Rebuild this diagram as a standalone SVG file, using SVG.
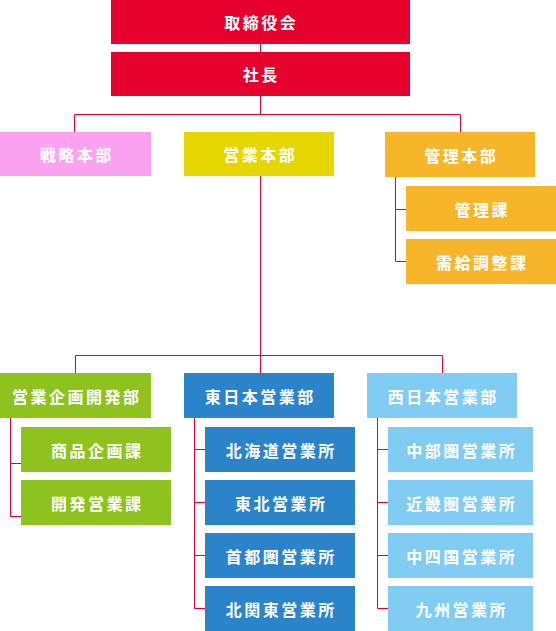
<svg xmlns="http://www.w3.org/2000/svg" width="556" height="631" viewBox="0 0 556 631">
<style>
text{font-family:"Noto Sans CJK JP","Noto Sans CJK SC",sans-serif;font-weight:bold;font-size:16px;fill:#fff;text-anchor:middle;dominant-baseline:central;letter-spacing:2.5px}
.red{fill:#E5002D}.pink{fill:#FBA3F1}.yel{fill:#E5D600}.ora{fill:#F7B529}.grn{fill:#8EC31F}.blu{fill:#2B83CA}.lbl{fill:#81CCF2}
.conn path{fill:none;stroke:#E5002D;stroke-width:1}
</style>
<g class="conn" id="connectors">
<path d="M260.5 44V52M260.5 96V115M74.5 132V114.5H460.5V132M260.5 176V373M75.5 373V355.5H442.5V373"/>
<path d="M395.5 177V261.5H406M395.5 209.5H406"/>
<path d="M10.5 417V516.5H21M10.5 463.5H21"/>
<path d="M194.5 417V608.5H205M194.5 449.5H205M194.5 502.5H205M194.5 555.5H205"/>
<path d="M377.5 417V608.5H388M377.5 449.5H388M377.5 502.5H388M377.5 555.5H388"/>
</g>
<g id="n1"><rect class="red" x="111" y="0" width="299" height="44"/><text x="261.2" y="22">取締役会</text></g>
<g id="n2"><rect class="red" x="111" y="52" width="299" height="44"/><text x="261.2" y="74">社長</text></g>
<g id="n3"><rect class="pink" x="0" y="132" width="151" height="44"/><text x="76.7" y="154">戦略本部</text></g>
<g id="n4"><rect class="yel" x="184" y="132" width="150" height="44"/><text x="260.2" y="154">営業本部</text></g>
<g id="n5"><rect class="ora" x="385" y="132" width="150" height="45"/><text x="461.2" y="154.5">管理本部</text></g>
<g id="n6"><rect class="ora" x="406" y="186" width="150" height="45"/><text x="482.2" y="208.5">管理課</text></g>
<g id="n7"><rect class="ora" x="406" y="239" width="150" height="45"/><text x="482.2" y="261.5">需給調整課</text></g>
<g id="n8"><rect class="grn" x="0" y="373" width="151" height="45"/><text x="76.7" y="395.5">営業企画開発部</text></g>
<g id="n9"><rect class="grn" x="21" y="427" width="150" height="45"/><text x="97.2" y="449.5">商品企画課</text></g>
<g id="n10"><rect class="grn" x="21" y="480" width="150" height="45"/><text x="97.2" y="502.5">開発営業課</text></g>
<g id="n11"><rect class="blu" x="184" y="373" width="150" height="45"/><text x="260.2" y="395.5">東日本営業部</text></g>
<g id="n12"><rect class="blu" x="205" y="427" width="150" height="45"/><text x="281.2" y="449.5">北海道営業所</text></g>
<g id="n13"><rect class="blu" x="205" y="480" width="150" height="45"/><text x="281.2" y="502.5">東北営業所</text></g>
<g id="n14"><rect class="blu" x="205" y="533" width="150" height="45"/><text x="281.2" y="555.5">首都圏営業所</text></g>
<g id="n15"><rect class="blu" x="205" y="586" width="150" height="45"/><text x="281.2" y="608.5">北関東営業所</text></g>
<g id="n16"><rect class="lbl" x="367" y="373" width="150" height="45"/><text x="443.2" y="395.5">西日本営業部</text></g>
<g id="n17"><rect class="lbl" x="388" y="427" width="145" height="45"/><text x="461.7" y="449.5">中部圏営業所</text></g>
<g id="n18"><rect class="lbl" x="388" y="480" width="145" height="45"/><text x="461.7" y="502.5">近畿圏営業所</text></g>
<g id="n19"><rect class="lbl" x="388" y="533" width="145" height="45"/><text x="461.7" y="555.5">中四国営業所</text></g>
<g id="n20"><rect class="lbl" x="388" y="586" width="145" height="45"/><text x="461.7" y="608.5">九州営業所</text></g>
</svg>
